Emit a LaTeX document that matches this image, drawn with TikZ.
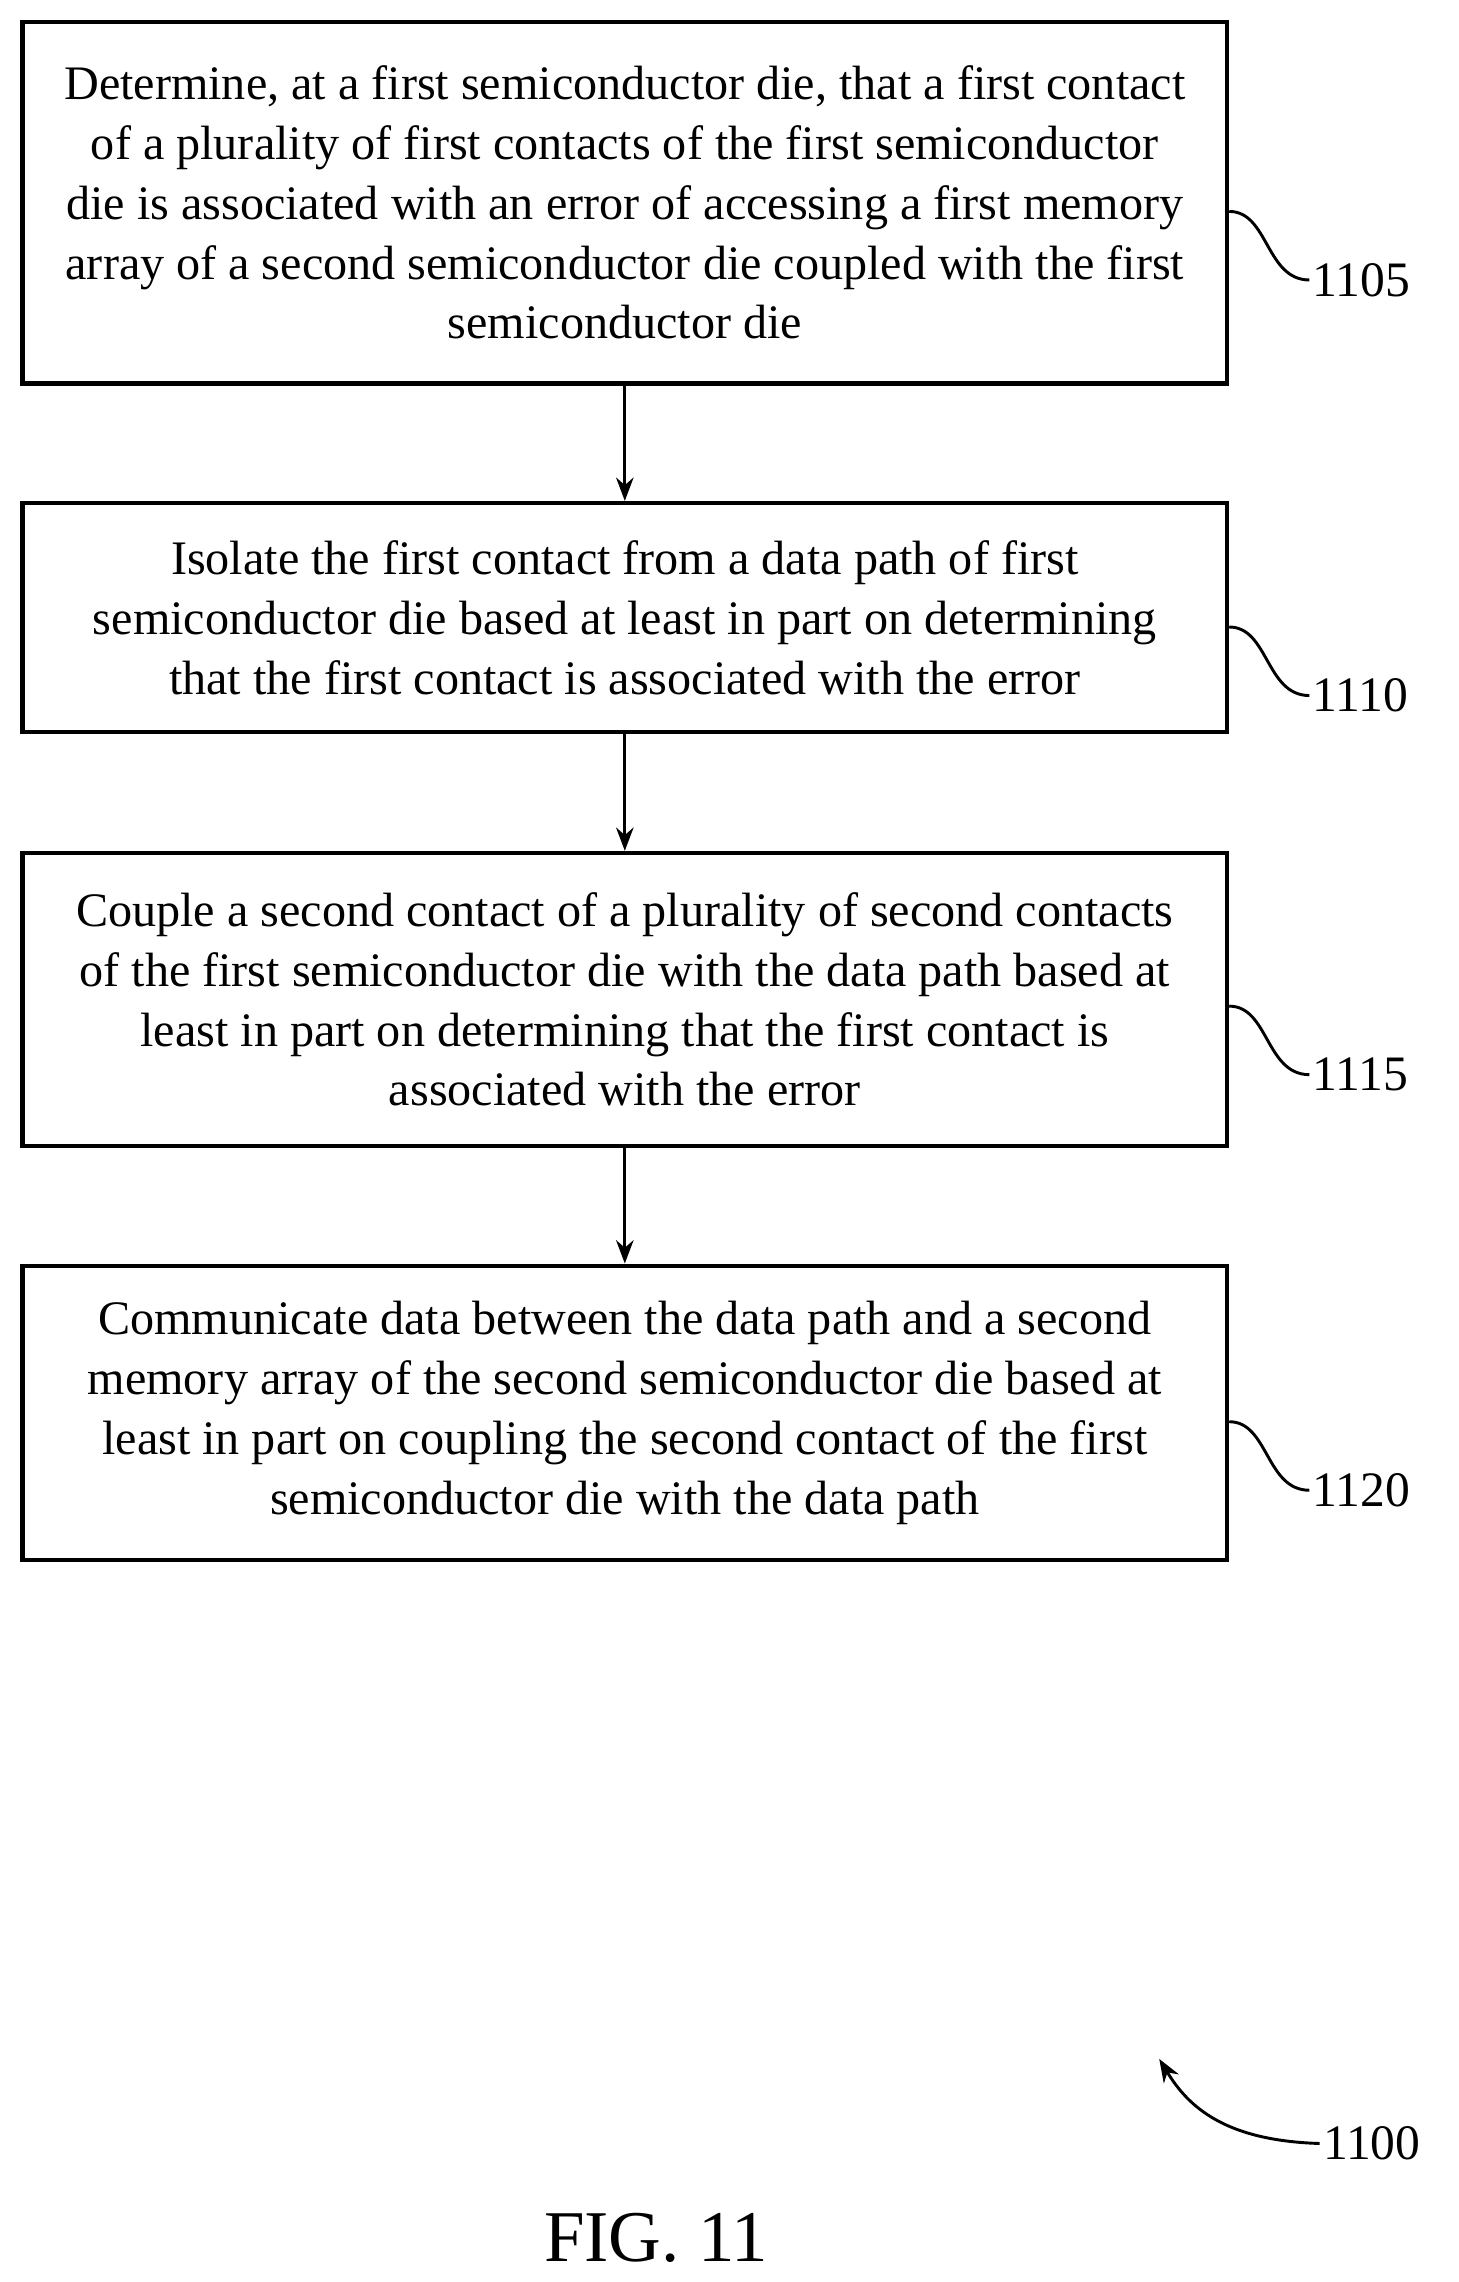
\documentclass[tikz,border=0pt]{standalone}
\usepackage{fontspec}
\setmainfont{Liberation Serif}
\usetikzlibrary{arrows.meta}
\tikzstyle{block} = [rectangle, draw, line width=1.5pt, align=center, minimum width=413pt, inner sep=0pt, font=\fontsize{16.5}{20.5}\selectfont]
\tikzstyle{arrow} = [line width=1pt,->,>={Stealth[length=8pt,width=6pt]}]
\tikzstyle{tag} = [line width=1pt]
\tikzstyle{num} = [anchor=west, inner sep=1pt, font=\fontsize{17}{20}\selectfont]
\begin{document}
\begin{tikzpicture}[x=0.5pt, y=-0.5pt]
        \useasboundingbox (0,0) rectangle (1000,1565);

        % Steps
        \node (step1) [block, minimum height=124pt] at (428.5,139) {Determine, at a first semiconductor die, that a first contact\\ of a plurality of first contacts of the first semiconductor\\ die is associated with an error of accessing a first memory\\ array of a second semiconductor die coupled with the first\\ semiconductor die};
        \node (step2) [block, minimum height=78.5pt] at (428.5,423.5) {Isolate the first contact from a data path of first\\ semiconductor die based at least in part on determining\\ that the first contact is associated with the error};
        \node (step3) [block, minimum height=100.5pt] at (428.5,685.5) {Couple a second contact of a plurality of second contacts\\ of the first semiconductor die with the data path based at\\ least in part on determining that the first contact is\\ associated with the error};
        \node (step4) [block, minimum height=101pt] at (428.5,969) {Communicate data between the data path and a second\\ memory array of the second semiconductor die based at\\ least in part on coupling the second contact of the first\\ semiconductor die with the data path};

        % Flow
        \draw [arrow] (step1) -- (step2);
        \draw [arrow] (step2) -- (step3);
        \draw [arrow] (step3) -- (step4);

        % Reference numerals
        \foreach \s/\y/\n in {step1/145/1105, step2/430/1110, step3/690/1115, step4/975/1120} {
            \coordinate (t\n) at (898,\y+47);
            \draw [tag] (\s.east |- 0,\y) .. controls (870,\y) and (868,\y+47) .. (t\n);
            \node [num] at (t\n) {\n};
        }

        \coordinate (fig) at (905,1470);
        \node (lbl) [num] at (fig) {1100};
        \draw [tag, -{Stealth[length=8pt,width=6pt]}] (fig) .. controls (840,1468) and (815,1445) .. (795,1412);

        \node (title) [font=\fontsize{25}{30}\selectfont] at (450,1535) {FIG. 11};
\end{tikzpicture}
\end{document}
